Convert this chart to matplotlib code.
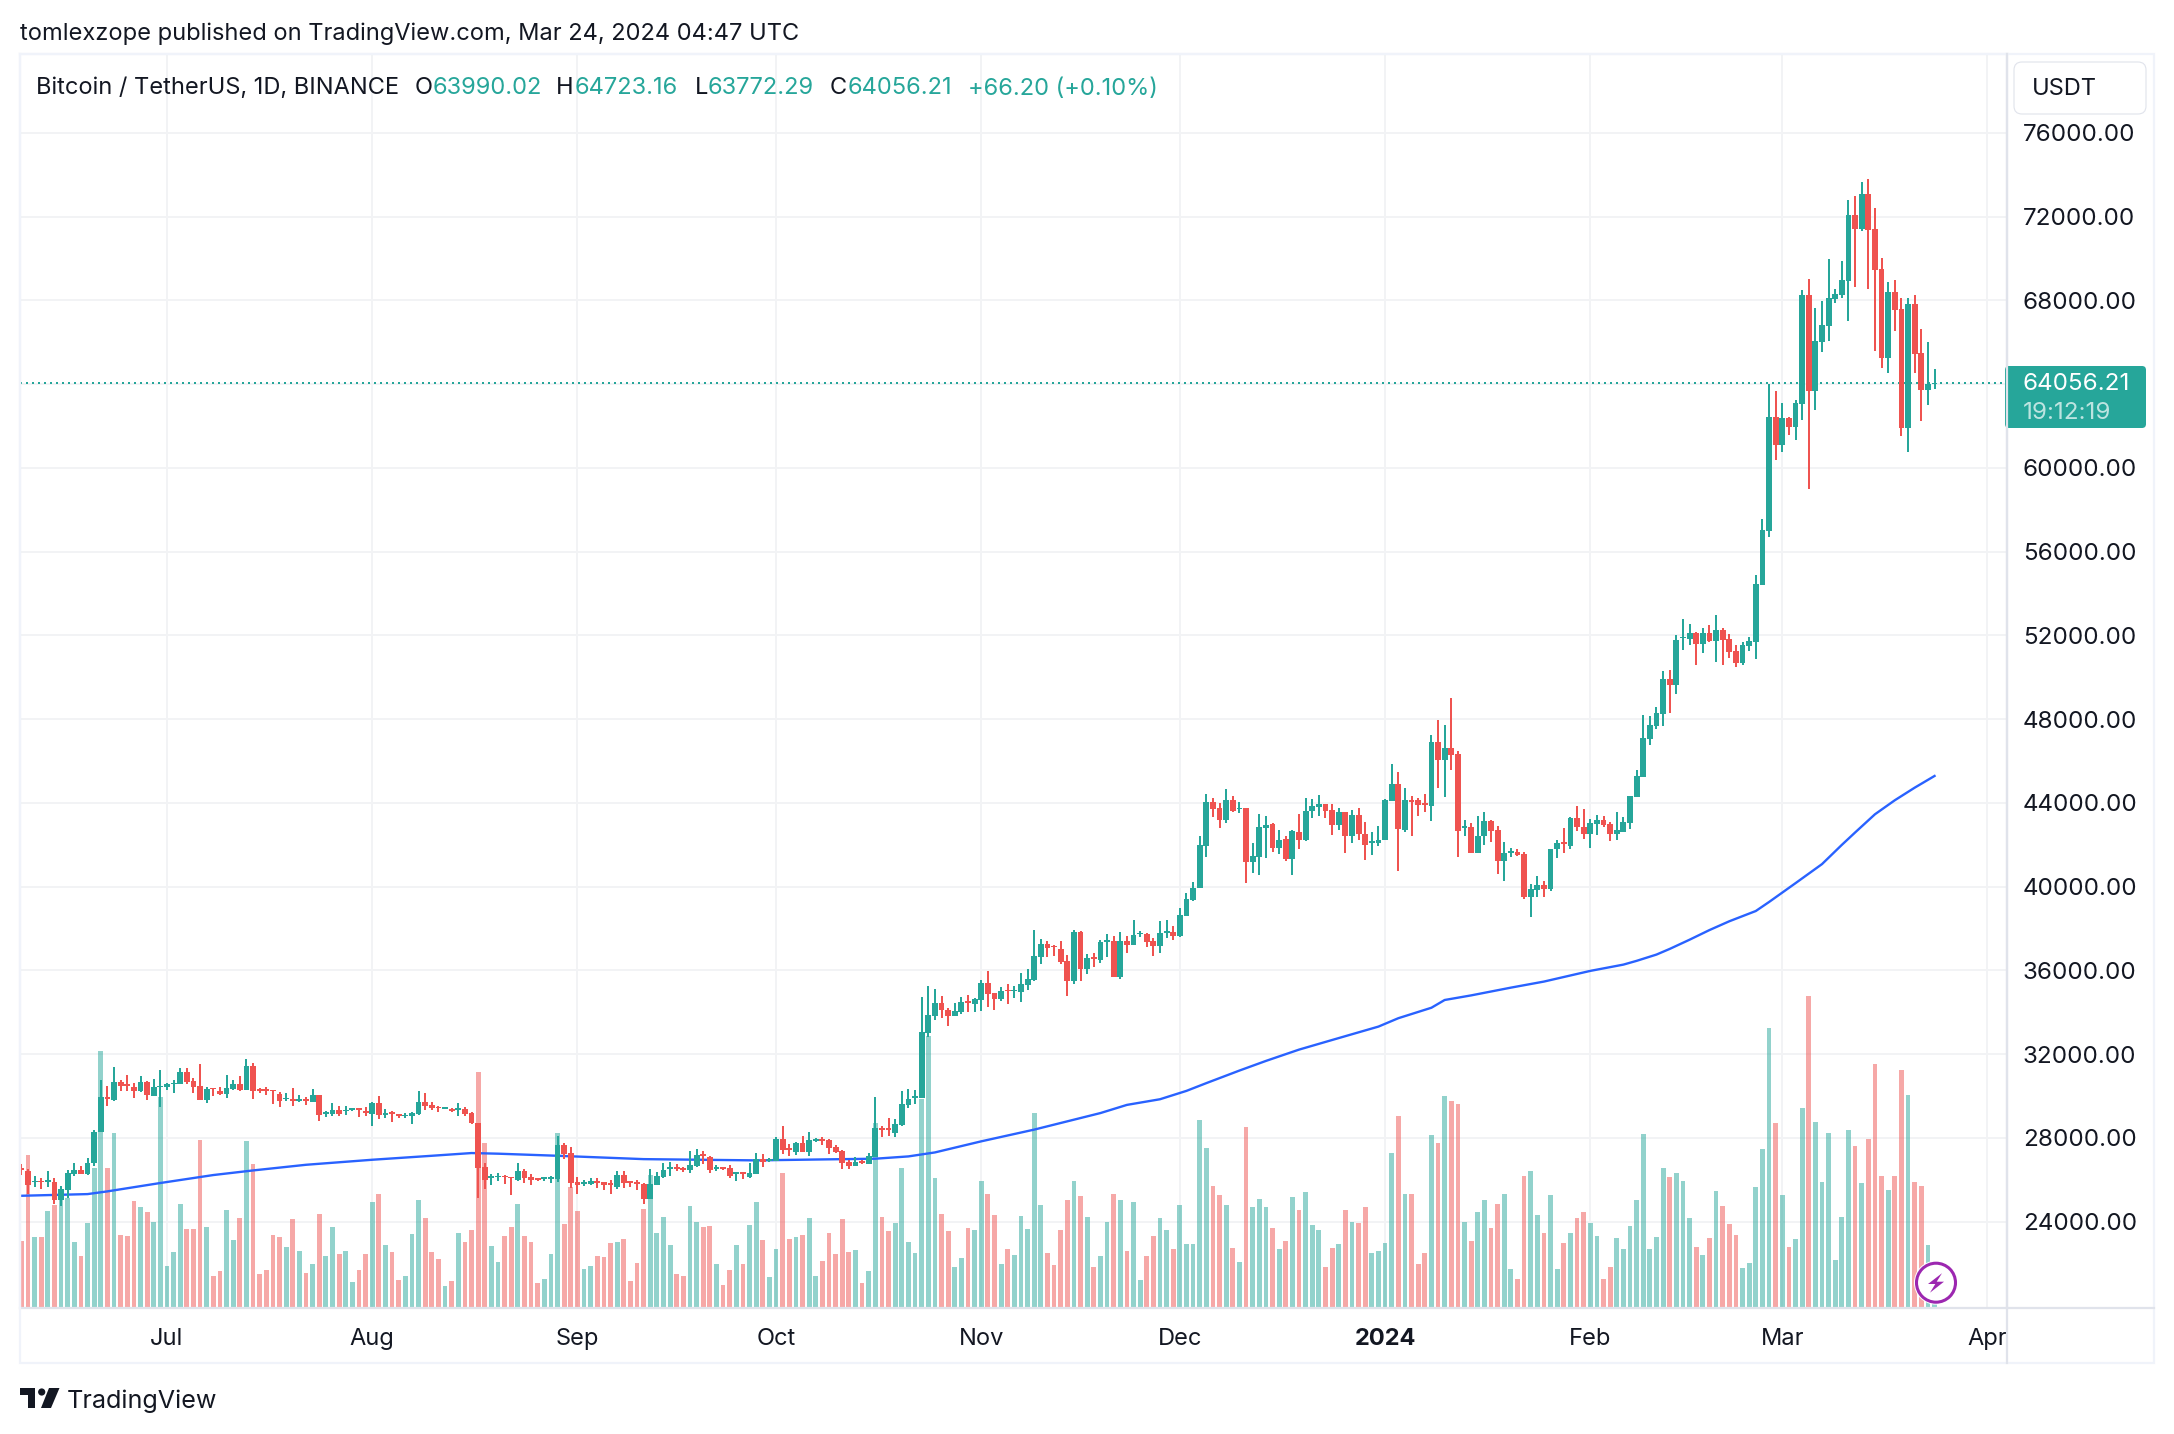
import matplotlib
matplotlib.use("Agg")
from matplotlib import pyplot as plt
from matplotlib.patches import Circle, FancyBboxPatch, Polygon, Rectangle
from matplotlib.lines import Line2D
from matplotlib.transforms import Affine2D, Bbox
import numpy as np

plt.rcParams['font.family'] = ['Inter', 'DejaVu Sans']

W, H = 2174, 1434
GREEN = '#26a69a'
RED = '#ef5350'
INK = '#131722'
GRID = '#f2f3f5'
FRAME = '#f0f3fa'
EDGE = '#e0e3eb'

# daily candles, one line per month, Jun 9 2023 .. Mar 24 2024
opens = [
    26560,26440,25880,25960,25900,25900,25050,25530,26290,26470,26290,26790,28270,29960,29830,30690,30530,30440,30220,30690,30020,30420,
    30420,30570,30570,31170,30740,30500,29830,30410,30260,30120,30340,30600,30290,31460,30340,30330,30280,30120,29850,29880,29780,29880,29740,30070,29160,29130,29340,29290,29340,29390,29270,
    29160,29690,29120,29210,29150,29050,29040,29160,29740,29580,29500,29390,29400,29340,29390,29210,28730,26630,26100,26130,26200,26130,26010,26440,26130,26070,26050,26050,26050,27680,27300,
    25900,25820,25820,25930,25880,25830,25670,26250,25930,25910,25820,25100,25770,26150,26530,26630,26580,26490,26680,27250,27110,26530,26610,26580,26290,26340,26150,26290,26990,26920,
    26920,27970,27540,27350,27780,27350,27870,27970,27920,27580,27390,26870,26680,26920,26770,27110,28490,28460,28250,28640,29590,29930,29930,33030,33840,34460,34130,33840,34030,34560,34410,
    34600,35410,34940,34650,35080,35000,34990,35320,35560,36650,37270,37180,37030,36460,35510,37840,36080,36650,36510,37370,37410,35700,37410,37220,37720,37750,37410,37180,37790,37840,
    37650,38600,39370,39920,41940,44040,43750,43200,44130,43710,43750,41190,41410,42820,42980,41830,42270,41340,42630,42210,43620,43820,43930,43670,42940,43560,42430,43420,42540,42100,42070,
    42210,44110,44890,42720,44160,44150,43980,43840,46920,46060,46640,46350,42800,42830,41620,42400,43120,42730,41240,41600,41650,41560,39520,39840,40100,39880,41780,42140,41940,43270,42870,
    42510,43000,43180,42980,42510,42620,43030,44290,45240,47050,47670,48250,49920,49640,51860,51840,52130,51600,52130,51750,52270,51840,51270,50700,51510,51700,54420,57000,62440,
    61100,62390,61960,63060,68260,63680,66020,66780,68070,68260,68930,72080,71410,73080,71410,69500,65250,68400,67590,61910,67830,65490,63730,63990.02,
]
highs = [
    26770,26530,26200,26100,26440,26100,25720,26450,26820,26680,27060,28400,30790,30500,31410,30790,31030,30630,30980,30700,30840,31270,
    30630,30790,31350,31350,30880,31510,30450,30410,30440,31030,30790,30980,31790,31600,30370,30420,30310,30180,30170,30410,30070,29980,30360,30070,29310,29690,29550,29530,29400,29450,29500,
    29740,30020,29400,29270,29160,29210,29240,30220,30170,29740,29550,29440,29450,29690,29500,29240,28730,26820,26260,26310,26250,26130,26820,26530,26290,26100,26150,26200,28110,27780,27580,
    26150,26010,26100,26100,25910,26010,26440,26440,25960,26010,25860,26530,26390,26820,26870,26770,26630,27390,27490,27390,27150,26720,26630,26720,26390,26390,26820,27300,27250,27060,
    28060,28590,27730,27820,28110,28300,28020,28060,27970,27680,27440,26960,27110,26960,27300,29980,28590,28970,28920,30220,30360,30310,34750,35260,35130,34790,34220,34460,34750,34840,34700,
    35560,35990,34940,35220,35370,35270,35890,36080,37940,37510,37410,37220,37410,36750,37940,37890,36790,36840,37460,37750,37650,37840,37650,38410,37890,37790,37560,38370,38410,38130,
    38980,39700,40210,42430,44440,44260,44000,44660,44310,44040,43780,42070,43470,43360,43050,42690,42400,42720,43470,44260,44200,44370,43930,43930,43780,43560,43650,43750,43090,42620,42890,
    44200,45840,45460,44710,44330,44260,44440,47260,47980,47700,49000,46490,43210,43020,43360,43550,43170,42880,42150,41850,41790,41650,40150,40500,40280,41800,42210,42800,43340,43850,43710,
    43250,43440,43360,43110,43560,43340,44330,45570,48200,48150,48580,50310,50350,52030,52800,52560,52180,52370,52510,52990,52370,52080,51560,51700,51940,54900,57570,64010,63680,
    63110,62440,63250,68500,69030,67640,67970,69980,68550,69880,72800,72990,73650,73800,72410,70030,68880,68980,68120,68120,68260,66640,66020,64723.16,
]
lows = [
    26250,25340,25640,25580,25660,24830,24760,25150,26170,26260,26250,26640,28270,29510,29780,30260,30260,29930,30210,29830,30020,29500,
    30310,30170,30570,30600,30170,29830,29690,30020,30070,29930,30310,30220,30290,29880,30170,30070,29640,29500,29750,29550,29740,29590,29740,28830,29020,29070,29070,29120,29310,29020,29070,
    28590,28920,28970,28780,28970,28970,28680,29120,29350,29320,29260,29380,29260,29070,29070,28680,25150,25580,25770,25960,25820,25290,25960,25860,25770,25960,25960,25860,25910,27010,25620,
    25340,25720,25770,25620,25530,25340,25580,25620,25670,25530,24860,25100,25770,26100,26200,26440,26390,26340,26630,26770,26340,26440,26490,26100,25960,26050,26100,26290,26630,26870,
    26920,27250,27150,27200,27350,27150,27820,27680,27250,27300,26530,26530,26680,26770,26770,27110,28060,28110,28060,28590,29450,29640,29900,32840,33650,33750,33370,33840,33940,34030,34030,
    34080,34270,34130,34560,34410,34700,34510,35080,35520,36320,36650,36700,36320,34790,35370,35510,35840,36180,36370,36650,35700,35600,36840,37220,37600,37130,36700,36840,37560,37460,
    37600,38600,39300,39920,41410,43340,42800,43050,43560,43530,40190,40660,40540,41390,41670,41560,41230,40540,41810,42180,43270,43380,43270,42470,42710,41610,42100,42250,41270,41500,41940,
    42210,44110,40760,42620,42430,43380,43560,43120,44710,44270,45580,41430,42400,41620,41620,42010,42150,40610,40270,41430,41490,39430,38550,39500,39520,39810,41390,41610,41790,42650,42290,
    41850,42470,42830,42200,42210,42610,42760,44290,45240,46760,47530,47670,48290,49210,51320,51560,50600,51170,51700,50740,50600,50930,50510,50600,51270,50890,54420,56710,60390,
    60770,61580,61340,62300,59000,62770,65540,66070,67880,68120,67020,68640,71320,68550,65590,64780,64540,66540,61530,60770,64540,62250,63010,63772.29,
]
closes = [
    26450,25770,25960,25880,25960,25050,25560,26340,26470,26290,26820,28300,29980,29850,30690,30470,30490,30230,30690,30040,30450,30490,
    30580,30630,31170,30690,30450,29830,30360,30340,30120,30410,30600,30310,31460,30260,30260,30250,30220,29780,29930,29780,29880,29780,30070,29120,29260,29320,29150,29340,29390,29340,29190,
    29690,29120,29190,29150,29070,29100,29210,29740,29550,29420,29430,29430,29310,29390,29160,28700,26580,26010,26180,26200,26120,26070,26440,26100,25990,25990,26100,26130,27680,27250,25860,
    25740,25910,25960,25830,25770,25750,26230,25860,25860,25820,25100,25820,26200,26490,26630,26530,26490,26720,27200,27150,26490,26630,26530,26200,26340,26290,26340,27010,26840,27010,
    27970,27440,27440,27780,27350,27920,27950,27870,27540,27350,26820,26680,26870,26820,27150,28490,28400,28400,28680,29640,29880,30020,33070,33870,34460,34100,33840,34080,34510,34460,34650,
    35410,34890,34650,35030,35000,35080,35370,35600,36700,37270,37080,37100,36410,35510,37840,36080,36600,36570,37370,37460,35700,37410,37220,37700,37790,37370,37180,37790,37870,37650,
    38650,39410,39920,41980,44040,43710,43200,44130,43640,43780,41190,41450,42850,42960,41850,42250,41300,42650,42250,43640,43850,43930,43620,42940,43560,42430,43420,42510,42000,42180,42250,
    44130,44890,42740,44130,44070,43890,43890,46920,46060,46640,46310,42680,42880,41620,42440,43120,42680,41240,41620,41690,41520,39500,39880,40060,39880,41790,42100,42030,43270,42870,42510,
    43020,43180,42940,42510,42710,43090,44330,45280,47100,47720,48290,49920,49640,51790,51940,52130,51600,52130,51750,52270,51790,51220,50700,51560,51750,54470,57050,62440,61100,
    62390,61960,63110,68260,63680,66070,66830,68120,68310,68980,72080,71410,73080,71360,69450,65250,68400,67550,61910,67830,65450,63730,63990.02,64056.21,
]
volumes = [
    67,153,71,71,97,103,110,110,66,52,85,140,257,140,175,73,72,107,101,96,86,211,
    42,56,104,79,79,168,81,32,37,98,68,90,167,144,34,38,73,71,61,89,57,35,44,94,52,81,54,57,26,38,54,
    106,114,63,56,28,32,74,108,90,56,49,22,27,75,66,78,236,165,62,46,72,81,104,72,66,25,29,54,175,84,121,
    97,39,42,52,51,65,66,69,27,45,99,133,75,91,63,34,32,102,86,81,82,44,23,38,63,44,83,106,68,31,
    59,135,69,71,73,90,32,47,75,54,89,56,58,25,37,185,91,77,85,140,66,55,209,272,130,94,77,41,50,80,78,
    127,114,93,44,59,53,92,79,195,103,55,43,78,108,127,112,91,41,52,86,114,108,57,106,28,52,72,90,78,59,
    103,64,64,188,160,122,113,103,60,46,181,101,109,101,80,59,67,111,98,116,83,78,41,60,64,98,86,85,101,55,57,
    65,155,192,114,114,44,55,173,165,212,207,204,86,67,96,108,80,104,114,39,29,132,137,93,75,113,39,65,75,90,96,
    85,72,29,41,70,59,82,108,174,59,71,140,131,135,127,90,61,53,70,117,102,84,73,40,45,121,159,280,185,
    113,61,69,200,312,186,126,175,48,91,178,162,125,169,244,132,118,132,238,213,126,122,63,15,
]

ma_days = [-22,-12,-9,-1,7,13,21,31,40,46,50,59,72,89,100,107,112,116,123,131,141,145,150,154,157,162,166,171,176,183,186,191,193,197,203,208,215,220,222,225,227,230,233,236,240,242,244,246,250,253,255,258,261,264,267]
ma_vals = [25240,25320,25450,25850,26230,26450,26720,26960,27150,27280,27250,27150,26990,26930,26980,27010,27120,27310,27840,28400,29190,29580,29850,30250,30620,31220,31680,32220,32680,33320,33720,34220,34590,34810,35180,35470,35980,36280,36460,36760,37030,37470,37930,38350,38840,39270,39720,40170,41080,42000,42590,43460,44130,44730,45290]

month_days = [0, 31, 62, 92, 123, 153, 184, 215, 244, 275]
month_labels = ['Jul', 'Aug', 'Sep', 'Oct', 'Nov', 'Dec', '2024', 'Feb', 'Mar', 'Apr']
price_ticks = list(range(24000, 76001, 4000))
last_price = 64056.21

days = np.arange(len(opens)) - 22
o, h, l, c = map(np.array, (opens, highs, lows, closes))
up = c >= o
colors = np.where(up, GREEN, RED)

# axis limits from the pixel positions of the price grid
y_min, y_max = 19880, 79770
x_min, x_max = (20 - 167) / 6.62, (2007 - 167) / 6.62
vol_scale = (y_max - y_min) / 1254

fig = plt.figure(figsize=(W / 100, H / 100), dpi=100, facecolor='white')
px = Affine2D().scale(1, -1).translate(0, H)
ax = fig.add_axes([20 / W, 1 - 1308 / H, 1987 / W, 1254 / H])
ax.set_xlim(x_min, x_max)
ax.set_ylim(y_min, y_max)

ax.grid(True, color=GRID, lw=1.4)
ax.set_axisbelow(True)

# volume
ax.bar(days, np.array(volumes) * vol_scale, bottom=y_min, width=0.72, color=colors, alpha=0.5, lw=0, zorder=1)

ax.axhline(last_price, color=GREEN, lw=1.44, ls=(0, (1, 2)), zorder=1.5)
ax.plot(ma_days, ma_vals, color='#2962ff', lw=1.7, zorder=2)

# candles
ax.vlines(days, l, h, colors=colors, lw=1.44, zorder=3)
body_h = np.maximum(np.abs(c - o), 70)
ax.bar(days, body_h, bottom=np.minimum(o, c), width=0.88, color=colors, lw=0, zorder=4)

ax.set_xticks(month_days)
ax.set_xticklabels(month_labels, fontsize=17, color=INK)
ax.set_yticks(price_ticks)
ax.set_yticklabels(['' if p == 64000 else '%.2f' % p for p in price_ticks], fontsize=17.4, color=INK)
ax.yaxis.tick_right()
ax.tick_params(axis='both', length=0)
ax.tick_params(axis='x', pad=14.5)
ax.tick_params(axis='y', pad=11.5)
for lab in ax.get_yticklabels():
    lab.set_ha('left')
for lab, txt in zip(ax.get_xticklabels(), month_labels):
    if txt == '2024':
        lab.set_fontweight('bold')
    lab.set_clip_box(Bbox([[0, 0], [2006, H]]))
    lab.set_clip_on(True)

for side in ['left', 'top']:
    ax.spines[side].set_color(FRAME)
    ax.spines[side].set_linewidth(1.6)
for side in ['right', 'bottom']:
    ax.spines[side].set_color(EDGE)
    ax.spines[side].set_linewidth(1.6)

# outer frame and price panel
fig.add_artist(Rectangle((20, 54), 2134, 1309, fill=False, ec=FRAME, lw=1.6, transform=px))
fig.add_artist(Line2D([2007, 2007], [54, 1363], color=EDGE, lw=1.6, transform=px))
fig.add_artist(Line2D([2007, 2154], [1308, 1308], color=EDGE, lw=1.6, transform=px))

fig.add_artist(FancyBboxPatch((2017, 65), 126, 46, boxstyle='round,pad=3,rounding_size=8',
                              fc='white', ec=EDGE, lw=0.8, transform=px))
fig.text(2032, 89, 'USDT', fontsize=17, color=INK, va='center', ha='left', transform=px)

fig.add_artist(FancyBboxPatch((2007, 368), 137, 58, boxstyle='round,pad=2,rounding_size=4',
                              fc=GREEN, ec='none', transform=px))
fig.text(2023, 384.5, '64056.21', fontsize=17.4, color='white', va='center', ha='left', transform=px)
fig.text(2023, 413, '19:12:19', fontsize=17.4, color='white', alpha=0.7, va='center', ha='left', transform=px)

# header
fig.text(20, 33.5, 'tomlexzope published on TradingView.com, Mar 24, 2024 04:47 UTC',
         fontsize=17, color=INK, va='center', ha='left', transform=px)
legend = [
    (36, 'Bitcoin / TetherUS, 1D, BINANCE', INK), (415, 'O', INK), (433, '63990.02', GREEN),
    (556, 'H', INK), (575, '64723.16', GREEN), (695, 'L', INK), (708, '63772.29', GREEN),
    (830, 'C', INK), (848, '64056.21', GREEN), (968, '+66.20 (+0.10%)', GREEN),
]
for x, txt, col in legend:
    fig.text(x, 88.5, txt, fontsize=17, color=col, va='center', ha='left', transform=px)

# lightning badge on the last bar
fig.add_artist(Circle((1936, 1282.7), 22, fc='white', ec='none', transform=px))
fig.add_artist(Circle((1936, 1282.7), 19.5, fc='white', ec='#9c27b0', lw=2.2, transform=px))
bolt = np.array([[6, -9.5], [-8, 1.3], [-0.7, 1.3], [-6, 10], [8, -1], [0.7, -1]]) + [1936, 1282.7]
fig.add_artist(Polygon(bolt, closed=True, fc='#9c27b0', ec='none', transform=px))

# TradingView logo
fig.add_artist(Polygon([[20, 1388], [35, 1388], [35, 1408], [28, 1408], [28, 1395], [20, 1395]], fc=INK, ec='none', transform=px))
fig.add_artist(Circle((41.7, 1392), 3.6, fc=INK, ec='none', transform=px))
fig.add_artist(Polygon([[49, 1388], [59.5, 1388], [51, 1408], [41, 1408]], fc=INK, ec='none', transform=px))
fig.text(67, 1401.5, 'TradingView', fontsize=18.1, color=INK, va='center', ha='left', transform=px)

fig.savefig('out.png', dpi=100)
